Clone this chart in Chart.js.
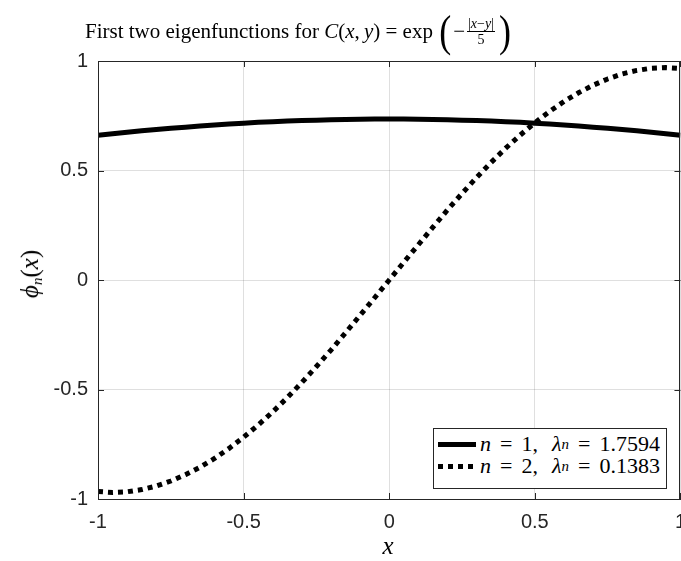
<!DOCTYPE html>
<html>
<head>
<meta charset="utf-8">
<script src="https://cdn.jsdelivr.net/npm/chart.js@4"></script>
<style>
  html, body { margin: 0; padding: 0; background: #fff; overflow: hidden; }
  #wrap { position: relative; width: 681px; height: 561px; overflow: hidden; }
  #myChart { position: absolute; left: 0; top: 0; }
  .tex { font-family: "Liberation Serif", "DejaVu Serif", serif; color: #000; position: absolute; white-space: nowrap; }
  .tex i { font-style: italic; }
  #title { left: 85px; top: 8px; font-size: 21px; line-height: 46px; height: 46px; display: flex; align-items: center; }
  .paren { font-size: 36px; transform: scaleY(1.25); display: inline-block; line-height: 1; margin: 0 2px; }
  .frac { display: inline-flex; flex-direction: column; align-items: center; font-size: 14px; line-height: 15px; margin: 0 2px; }
  .frac .num { border-bottom: 1px solid #000; padding: 0 1px; }
  #ylab { left: 30px; top: 274px; font-size: 25px; transform: translate(-50%, -50%) rotate(-90deg); }
  #xlab { left: 388px; top: 546px; font-size: 25px; transform: translate(-50%, -50%); }
  #legend { left: 433px; top: 428px; width: 232px; height: 59px; border: 1px solid #262626; background: #fff; font-size: 22px; }
  .row { position: absolute; left: 4px; height: 22px; display: flex; align-items: center; }
  .eq { margin: 0 9px; }
  .gap { display: inline-block; width: 14px; }
  .solid { width: 38px; height: 5px; background: #000; margin-right: 4px; }
  .dots { width: 38px; height: 5px; margin-right: 4px; background: repeating-linear-gradient(90deg, #000 0 5px, transparent 5px 10px); }
  sub { font-size: 15px; vertical-align: -4px; line-height: 0; }
</style>
</head>
<body>
<div id="wrap">
  <canvas id="myChart" width="697" height="561"></canvas>
  <div id="title" class="tex">First two eigenfunctions for&nbsp;<i>C</i>(<i>x</i>,&thinsp;<i>y</i>)&nbsp;=&nbsp;exp&thinsp;<span class="paren">(</span>&minus;<span class="frac"><span class="num">|<i>x</i>&minus;<i>y</i>|</span><span>5</span></span><span class="paren">)</span></div>
  <div id="ylab" class="tex"><i>&#981;</i><sub><i>n</i></sub>(<i>x</i>)</div>
  <div id="xlab" class="tex"><i>x</i></div>
  <div id="legend" class="tex">
    <div class="row" style="top: 4px;"><div class="solid"></div><i>n</i><span class="eq">=</span>1,<span class="gap"></span><i>&lambda;</i><sub><i>n</i></sub><span class="eq">=</span>1.7594</div>
    <div class="row" style="top: 26px;"><div class="dots"></div><i>n</i><span class="eq">=</span>2,<span class="gap"></span><i>&lambda;</i><sub><i>n</i></sub><span class="eq">=</span>0.1383</div>
  </div>
</div>
<script>
// x positions of the sampled points
var xValues = [-1, -0.95, -0.9, -0.85, -0.8, -0.75, -0.7, -0.65, -0.6, -0.55, -0.5,
               -0.45, -0.4, -0.35, -0.3, -0.25, -0.2, -0.15, -0.1, -0.05, 0,
               0.05, 0.1, 0.15, 0.2, 0.25, 0.3, 0.35, 0.4, 0.45, 0.5,
               0.55, 0.6, 0.65, 0.7, 0.75, 0.8, 0.85, 0.9, 0.95, 1];

// n = 1 eigenfunction
var phi1 = [0.661, 0.668, 0.675, 0.681, 0.687, 0.693, 0.698, 0.703, 0.708, 0.712, 0.716,
            0.720, 0.723, 0.726, 0.728, 0.730, 0.732, 0.733, 0.734, 0.735, 0.735,
            0.735, 0.734, 0.733, 0.732, 0.730, 0.728, 0.726, 0.723, 0.720, 0.716,
            0.712, 0.708, 0.703, 0.698, 0.693, 0.687, 0.681, 0.675, 0.668, 0.661];

// n = 2 eigenfunction
var phi2 = [-0.966, -0.970, -0.967, -0.957, -0.941, -0.918, -0.889, -0.855, -0.815, -0.769, -0.718,
            -0.662, -0.602, -0.537, -0.468, -0.395, -0.320, -0.241, -0.161, -0.081, 0,
            0.081, 0.161, 0.241, 0.320, 0.395, 0.468, 0.537, 0.602, 0.662, 0.718,
            0.769, 0.815, 0.855, 0.889, 0.918, 0.941, 0.957, 0.967, 0.970, 0.966];

var tickValues = [-1, -0.5, 0, 0.5, 1];
var seriesNames = ['n = 1, \u03bbn = 1.7594', 'n = 2, \u03bbn = 0.1383'];

function toPoints(ys) {
    return xValues.map(function (x, i) { return { x: x, y: ys[i] }; });
}

// box round the plot and small inward ticks, like MATLAB's "box on"
var boxPlugin = {
    id: 'box',
    afterDraw: function (chart) {
        var c = chart.ctx, a = chart.chartArea;
        var xs = chart.scales.x, ys = chart.scales.y;
        c.save();
        c.strokeStyle = '#262626';
        c.lineWidth = 1;
        c.strokeRect(Math.round(a.left) + 0.5, Math.round(a.top) + 0.5,
                     Math.round(a.right - a.left) - 1, Math.round(a.bottom - a.top));
        c.beginPath();
        tickValues.forEach(function (v) {
            var px = Math.round(xs.getPixelForValue(v)) + 0.5;
            c.moveTo(px, a.bottom); c.lineTo(px, a.bottom - 6);
            c.moveTo(px, a.top); c.lineTo(px, a.top + 6);
            var py = Math.round(ys.getPixelForValue(v)) + 0.5;
            c.moveTo(a.left, py); c.lineTo(a.left + 6, py);
            c.moveTo(a.right, py); c.lineTo(a.right - 6, py);
        });
        c.stroke();
        c.restore();
    }
};

var tickFont = { family: '"Liberation Sans", Arial, sans-serif', size: 20 };
var gridColor = 'rgba(38, 38, 38, 0.15)';

var ctx = document.getElementById('myChart').getContext('2d');
var myChart = new Chart(ctx, {
    type: 'line',
    data: {
        datasets: [{
            label: seriesNames[0],
            data: toPoints(phi1),
            borderColor: '#000',
            borderWidth: 5,
            pointRadius: 0,
            fill: false
        }, {
            label: seriesNames[1],
            data: toPoints(phi2),
            borderColor: '#000',
            borderWidth: 5,
            borderDash: [5, 5],
            borderCapStyle: 'butt',
            pointRadius: 0,
            fill: false
        }]
    },
    options: {
        responsive: false,
        animation: false,
        layout: { padding: { top: 61, left: 0, right: 0, bottom: 0 } },
        plugins: {
            legend: { display: false },
            title: { display: false },
            tooltip: { enabled: false }
        },
        scales: {
            x: {
                type: 'linear',
                min: -1,
                max: 1,
                afterFit: function (scale) { scale.height = 62; },
                afterBuildTicks: function (scale) {
                    scale.ticks = tickValues.map(function (v) { return { value: v }; });
                },
                ticks: {
                    font: tickFont,
                    color: '#262626',
                    padding: 11,
                    maxRotation: 0,
                    callback: function (v) { return String(v); }
                },
                grid: { color: gridColor, drawTicks: false },
                border: { color: '#262626' }
            },
            y: {
                min: -1,
                max: 1,
                afterFit: function (scale) { scale.width = 98; },
                afterBuildTicks: function (scale) {
                    scale.ticks = tickValues.map(function (v) { return { value: v }; });
                },
                ticks: {
                    font: tickFont,
                    color: '#262626',
                    padding: 10,
                    callback: function (v) { return String(v); }
                },
                grid: { color: gridColor, drawTicks: false },
                border: { color: '#262626' }
            }
        }
    },
    plugins: [boxPlugin]
});
</script>
</body>
</html>
